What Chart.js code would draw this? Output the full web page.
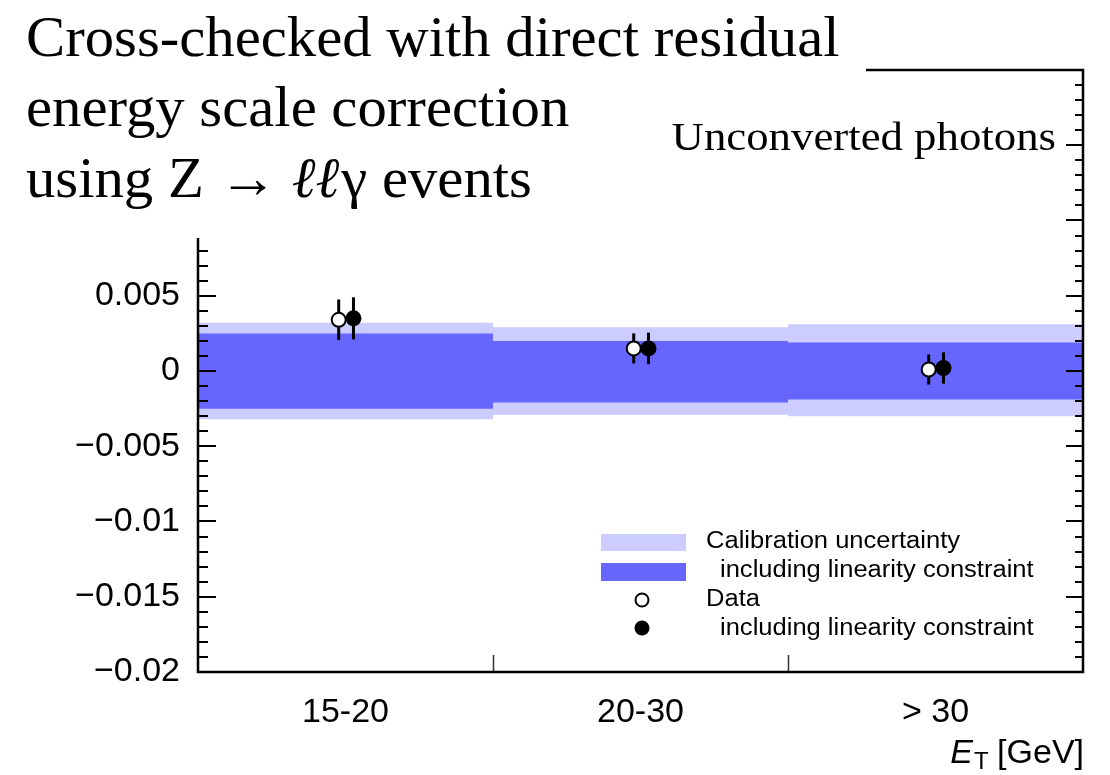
<!DOCTYPE html>
<html>
<head>
<meta charset="utf-8">
<title>Residual energy scale, unconverted photons</title>
<script src="https://cdn.jsdelivr.net/npm/chart.js@4/dist/chart.umd.min.js"></script>
<style>
  html, body { margin: 0; padding: 0; background: #fff; }
  #wrap { width: 1110px; height: 775px; }
</style>
</head>
<body>
<div id="wrap"><canvas id="chart" width="1110" height="775"></canvas></div>
<script>
// E_T bins
const binLabels = ["15-20", "20-30", "> 30"];
const binEdges = [0, 1, 2, 3];

// calibration uncertainty band (light) and with linearity constraint (dark)
const calibUp = [0.0032, 0.0029, 0.0031];
const calibDown = [-0.0032, -0.0029, -0.0030];
const linUp = [0.0025, 0.0020, 0.0019];
const linDown = [-0.0025, -0.0021, -0.0019];

// data points: open = data, filled = data including linearity constraint
const dataVal = [0.0034, 0.0015, 0.0001];
const dataErrUp = [0.00135, 0.0010, 0.0010];
const dataErrDown = [0.00135, 0.0010, 0.0010];
const linVal = [0.0035, 0.0015, 0.0002];
const linErrUp = [0.0014, 0.00105, 0.00104];
const linErrDown = [0.0014, 0.00105, 0.00104];

const yTicksMajor = 0.005;
const yTicksMinor = 0.001;

const SERIF = "'Liberation Serif', 'Times New Roman', serif";
const SANS = "'Liberation Sans', Arial, Helvetica, sans-serif";

// stepped outline over bin edges, last value repeated to close the final bin
const stepped = vals => binEdges.map((e, i) => ({ x: e, y: vals[Math.min(i, vals.length - 1)] }));
const points = (vals, shift) => vals.map((v, i) => ({ x: i + 0.5 + shift, y: v }));

function fmtY(v) {
  if (Math.abs(v) < 1e-9) return "0";
  if (v > 0.0051) return null;
  const s = String(parseFloat(Math.abs(v).toFixed(3)));
  return (v < 0 ? "\u2212" : "") + s;
}

// draws left- or right-anchored text, optionally stretched horizontally
function text(ctx, str, x, y, font, sx, align) {
  ctx.save();
  ctx.font = font;
  ctx.fillStyle = "#000";
  ctx.textBaseline = "alphabetic";
  const w = ctx.measureText(str).width * sx;
  let x0 = x;
  if (align === "right") x0 = x - w;
  ctx.translate(x0, y);
  ctx.scale(sx, 1);
  ctx.textAlign = "left";
  ctx.fillText(str, 0, 0);
  ctx.restore();
  return w;
}

// vertical error bars, drawn just before their markers
const errorBars = {
  id: "errorBars",
  beforeDatasetDraw(chart, args) {
    const ds = chart.data.datasets[args.index];
    if (!ds.errUp) return;
    const y = chart.scales.y;
    const ctx = chart.ctx;
    ctx.save();
    ctx.strokeStyle = "#000";
    ctx.lineWidth = 3;
    args.meta.data.forEach((pt, i) => {
      const v = ds.data[i].y;
      ctx.beginPath();
      ctx.moveTo(pt.x, y.getPixelForValue(v + ds.errUp[i]));
      ctx.lineTo(pt.x, y.getPixelForValue(v - ds.errDown[i]));
      ctx.stroke();
    });
    ctx.restore();
  }
};

// frame, inward ticks, caption block, legend and labels
const decorations = {
  id: "decorations",
  afterDraw(chart) {
    const ctx = chart.ctx;
    const { left, right, top, bottom } = chart.chartArea;
    const y = chart.scales.y;
    const x = chart.scales.x;
    ctx.save();
    ctx.strokeStyle = "#000";

    // minor / major ticks on both vertical axes
    ctx.lineWidth = 2;
    for (let v = y.min; v <= y.max + 1e-9; v += yTicksMinor) {
      const py = Math.round(y.getPixelForValue(v));
      const major = Math.abs(v / yTicksMajor - Math.round(v / yTicksMajor)) < 1e-6;
      const lenL = major ? 18 : 10;
      const lenR = major ? 17 : 8;
      ctx.beginPath();
      ctx.moveTo(left, py); ctx.lineTo(left + lenL, py);
      ctx.moveTo(right, py); ctx.lineTo(right - lenR, py);
      ctx.stroke();
    }

    // bin boundaries on the x axis
    ctx.lineWidth = 1.5;
    ctx.strokeStyle = "#333";
    binEdges.slice(1, -1).forEach(e => {
      const px = Math.round(x.getPixelForValue(e)) + 0.5;
      ctx.beginPath();
      ctx.moveTo(px, bottom); ctx.lineTo(px, bottom - 17);
      ctx.stroke();
    });

    ctx.strokeStyle = "#000";
    ctx.lineWidth = 2.5;
    ctx.strokeRect(left, top, right - left, bottom - top);

    // caption block sits on a white patch over the upper left corner
    ctx.fillStyle = "#fff";
    ctx.fillRect(0, 0, 866, 238);
    const tf = "57px " + SERIF;
    text(ctx, "Cross-checked with direct residual", 26, 56, tf, 1.03);
    text(ctx, "energy scale correction", 26, 126, tf, 1.03);
    let tx = 26;
    tx += text(ctx, "using Z \u2192 ", tx, 197, tf, 1.03);
    tx += text(ctx, "\u2113\u2113", tx, 197, "italic 57px " + SERIF, 1.0);
    text(ctx, "\u03B3 events", tx + 2, 197, tf, 1.03);

    text(ctx, "Unconverted photons", 1056, 150, "40px " + SERIF, 1.12, "right");

    // legend
    ctx.fillStyle = "#ccccff";
    ctx.fillRect(601, 534, 85, 17);
    ctx.fillStyle = "#6666ff";
    ctx.fillRect(601, 563, 85, 18);
    ctx.lineWidth = 2;
    ctx.beginPath();
    ctx.arc(642, 600, 6.5, 0, Math.PI * 2);
    ctx.fillStyle = "#fff"; ctx.fill();
    ctx.strokeStyle = "#000"; ctx.stroke();
    ctx.beginPath();
    ctx.arc(642, 628, 7.5, 0, Math.PI * 2);
    ctx.fillStyle = "#000"; ctx.fill();

    const lf = "23px " + SANS;
    text(ctx, "Calibration uncertainty", 706, 548, lf, 1.11);
    text(ctx, "including linearity constraint", 720, 577, lf, 1.11);
    text(ctx, "Data", 706, 606, lf, 1.11);
    text(ctx, "including linearity constraint", 720, 635, lf, 1.11);

    // axis title E_T [GeV]
    ctx.save();
    ctx.font = "italic 34px " + SANS;
    const wE = ctx.measureText("E").width;
    ctx.font = "24px " + SANS;
    const wT = ctx.measureText("T").width;
    ctx.font = "34px " + SANS;
    const wG = ctx.measureText(" [GeV]").width;
    ctx.restore();
    const ax = right + 1 - (wE + wT + wG);
    text(ctx, "E", ax, 763, "italic 34px " + SANS, 1);
    text(ctx, "T", ax + wE + 1, 769, "24px " + SANS, 1);
    text(ctx, " [GeV]", ax + wE + wT, 763, "34px " + SANS, 1);

    ctx.restore();
  }
};

const bandLine = (vals, color, fill, order) => ({
  type: "line",
  data: stepped(vals),
  stepped: true,
  borderWidth: 0,
  borderColor: "rgba(0,0,0,0)",
  backgroundColor: color,
  pointRadius: 0,
  fill: fill,
  order: order
});

new Chart(document.getElementById("chart"), {
  type: "scatter",
  data: {
    datasets: [
      bandLine(calibUp, "#ccccff", "+1", 10),
      bandLine(calibDown, "#ccccff", false, 10),
      bandLine(linUp, "#6666ff", "+1", 9),
      bandLine(linDown, "#6666ff", false, 9),
      {
        label: "Data",
        data: points(dataVal, -0.023),
        errUp: dataErrUp,
        errDown: dataErrDown,
        pointRadius: 7,
        borderWidth: 2,
        pointBackgroundColor: "#fff",
        pointBorderColor: "#000",
        order: 2
      },
      {
        label: "including linearity constraint",
        data: points(linVal, 0.027),
        errUp: linErrUp,
        errDown: linErrDown,
        pointRadius: 8,
        borderWidth: 0,
        pointBackgroundColor: "#000",
        pointBorderColor: "#000",
        order: 1
      }
    ]
  },
  options: {
    responsive: false,
    animation: false,
    events: [],
    layout: { padding: { left: 0, right: 27, top: 70, bottom: 0 } },
    plugins: {
      legend: { display: false },
      tooltip: { enabled: false }
    },
    scales: {
      x: {
        type: "linear",
        min: 0,
        max: 3,
        afterFit: s => { s.height = 103; },
        afterBuildTicks: s => { s.ticks = binLabels.map((l, i) => ({ value: i + 0.5 })); },
        grid: { display: false, drawTicks: false, tickLength: 0 },
        border: { display: false },
        ticks: {
          padding: 20,
          color: "#000",
          font: { family: SANS, size: 34 },
          maxRotation: 0,
          autoSkip: false,
          callback: (v, i) => binLabels[i]
        }
      },
      y: {
        min: -0.02,
        max: 0.02,
        afterFit: s => { s.width = 198; },
        grid: { display: false, drawTicks: false, tickLength: 0 },
        border: { display: false },
        ticks: {
          stepSize: yTicksMajor,
          padding: 18,
          color: "#000",
          font: { family: SANS, size: 34 },
          callback: v => fmtY(v)
        }
      }
    }
  },
  plugins: [errorBars, decorations]
});
</script>
</body>
</html>
